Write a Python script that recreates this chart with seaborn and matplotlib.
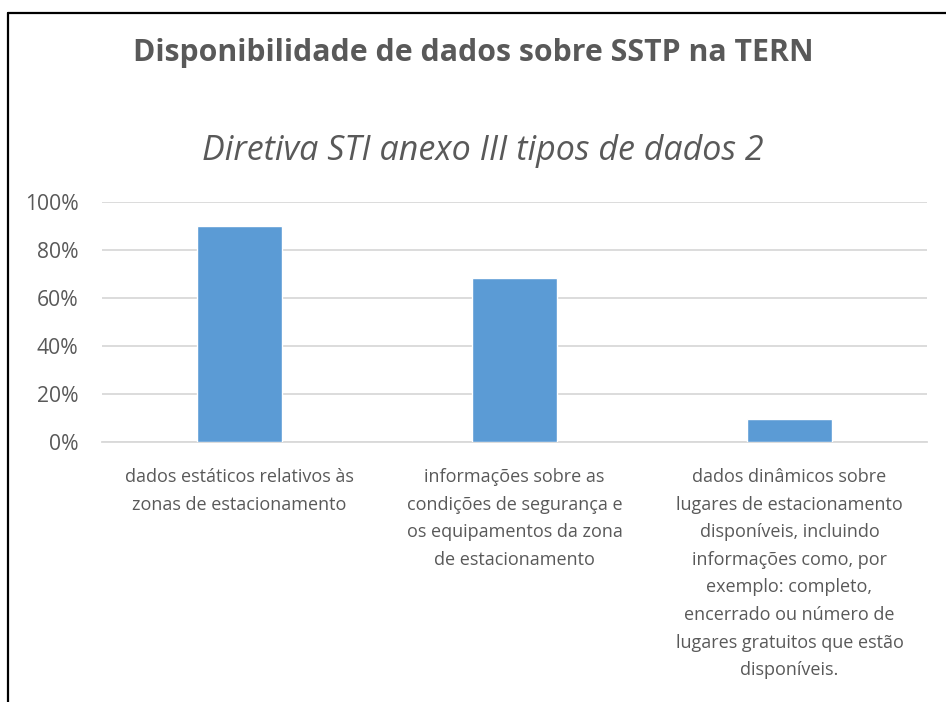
import matplotlib
matplotlib.use("Agg")
import matplotlib.pyplot as plt
from matplotlib.lines import Line2D
from matplotlib.ticker import PercentFormatter
import seaborn as sns
import pandas as pd

title = "Disponibilidade de dados sobre SSTP na TERN"
subtitle = "Diretiva STI anexo III tipos de dados 2"
categories = [
    "dados estáticos relativos às\nzonas de estacionamento",
    "informações sobre as\ncondições de segurança e\nos equipamentos da zona\nde estacionamento",
    "dados dinâmicos sobre\nlugares de estacionamento\ndisponíveis, incluindo\ninformações como, por\nexemplo: completo,\nencerrado ou número de\nlugares gratuitos que estão\ndisponíveis.",
]
values = [0.90, 0.683, 0.097]
y_ticks = [0.0, 0.2, 0.4, 0.6, 0.8, 1.0]

sns.set_theme(style="white")
plt.rcParams["font.family"] = ["Open Sans", "DejaVu Sans"]

W, H = 946, 702
fig = plt.figure(figsize=(W / 100, H / 100), dpi=100)
fig.patch.set_facecolor("white")
ax = fig.add_axes([102 / W, 1 - 442 / H, 825 / W, 240 / H])

df = pd.DataFrame({"cat": categories, "val": values})
sns.barplot(data=df, x="cat", y="val", color="#5B9BD5", width=0.31,
            saturation=1, ax=ax, zorder=3)

ax.set_xlim(-0.5, 2.5)
ax.set_ylim(0, 1.0)
ax.set_yticks(y_ticks)
ax.yaxis.set_major_formatter(PercentFormatter(1.0, decimals=0))
ax.grid(axis="y", color="#D9D9D9", linewidth=1.3, zorder=0)
ax.grid(axis="x", visible=False)
for s in ["top", "right", "left"]:
    ax.spines[s].set_visible(False)
ax.spines["bottom"].set_color("#D9D9D9")
ax.spines["bottom"].set_linewidth(1.3)
ax.set_xlabel("")
ax.set_ylabel("")
ax.tick_params(axis="y", length=0, pad=17, labelsize=15.2, labelcolor="#595959")
ax.tick_params(axis="x", length=0, pad=19, labelsize=13, labelcolor="#595959")
for lab in ax.get_xticklabels():
    lab.set_multialignment("center")
    lab.set_linespacing(1.68)

fig.text(0.5, 1 - 53 / H, title, ha="center", va="center",
         fontsize=21.8, fontweight="bold", color="#595959")
fig.text(0.5 + 10 / W, 1 - 151 / H, subtitle, ha="center", va="center",
         fontsize=24.5, fontstyle="italic", color="#595959")

# chart frame (left and top edges visible)
fig.add_artist(Line2D([8 / W, 8 / W], [0, 1 - 13 / H], transform=fig.transFigure,
                      color="black", linewidth=1.6))
fig.add_artist(Line2D([8 / W, 1], [1 - 13 / H, 1 - 13 / H], transform=fig.transFigure,
                      color="black", linewidth=1.6))

fig.savefig("out.png", dpi=100)
